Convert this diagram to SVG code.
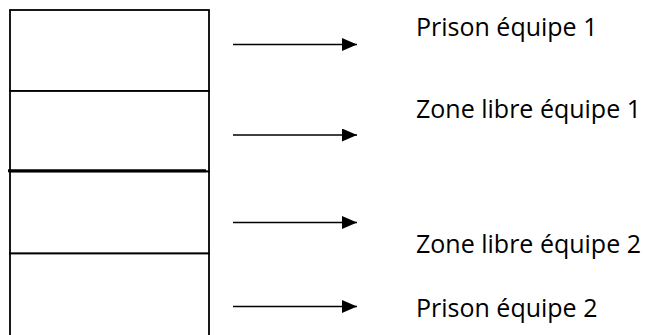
<svg xmlns="http://www.w3.org/2000/svg" width="647" height="335" viewBox="0 0 647 335">
  <style>
    .cell { fill: #ffffff; stroke: #000000; stroke-width: 1.8; }
    .arrow { stroke: #000000; stroke-width: 1.5; fill: none; }
    .lbl { font-family: "Open Sans", "Noto Sans", sans-serif; font-size: 25px; fill: #000000; }
  </style>
  <defs>
    <marker id="head" viewBox="0 0 15 13" refX="15" refY="6.5" markerWidth="15" markerHeight="13" markerUnits="userSpaceOnUse" orient="auto">
      <path d="M0,0 L15,6.5 L0,13 Z" fill="#000000"/>
    </marker>
  </defs>
  <rect x="0" y="0" width="647" height="335" fill="#ffffff"/>
  <g id="cell-prison-1">
    <rect class="cell" x="10" y="10" width="199" height="81"/>
  </g>
  <g id="cell-zone-1">
    <rect class="cell" x="10" y="91" width="199" height="80.5"/>
  </g>
  <g id="cell-zone-2">
    <rect class="cell" x="10" y="171.5" width="199" height="82"/>
    <line x1="8" y1="170.7" x2="206" y2="170.7" stroke="#000000" stroke-width="3"/>
  </g>
  <g id="cell-prison-2">
    <rect class="cell" x="10" y="253.5" width="199" height="90"/>
  </g>
  <g id="connectors">
    <line class="arrow" x1="233" y1="44.5" x2="357" y2="44.5" marker-end="url(#head)"/>
    <line class="arrow" x1="233" y1="135" x2="357" y2="135" marker-end="url(#head)"/>
    <line class="arrow" x1="233" y1="222.5" x2="357" y2="222.5" marker-end="url(#head)"/>
    <line class="arrow" x1="233" y1="306.5" x2="357" y2="306.5" marker-end="url(#head)"/>
  </g>
  <g id="label-prison-1"><text class="lbl" x="416" y="36">Prison équipe 1</text></g>
  <g id="label-zone-1"><text class="lbl" x="416" y="118">Zone libre équipe 1</text></g>
  <g id="label-zone-2"><text class="lbl" x="416" y="253">Zone libre équipe 2</text></g>
  <g id="label-prison-2"><text class="lbl" x="416" y="317">Prison équipe 2</text></g>
</svg>
